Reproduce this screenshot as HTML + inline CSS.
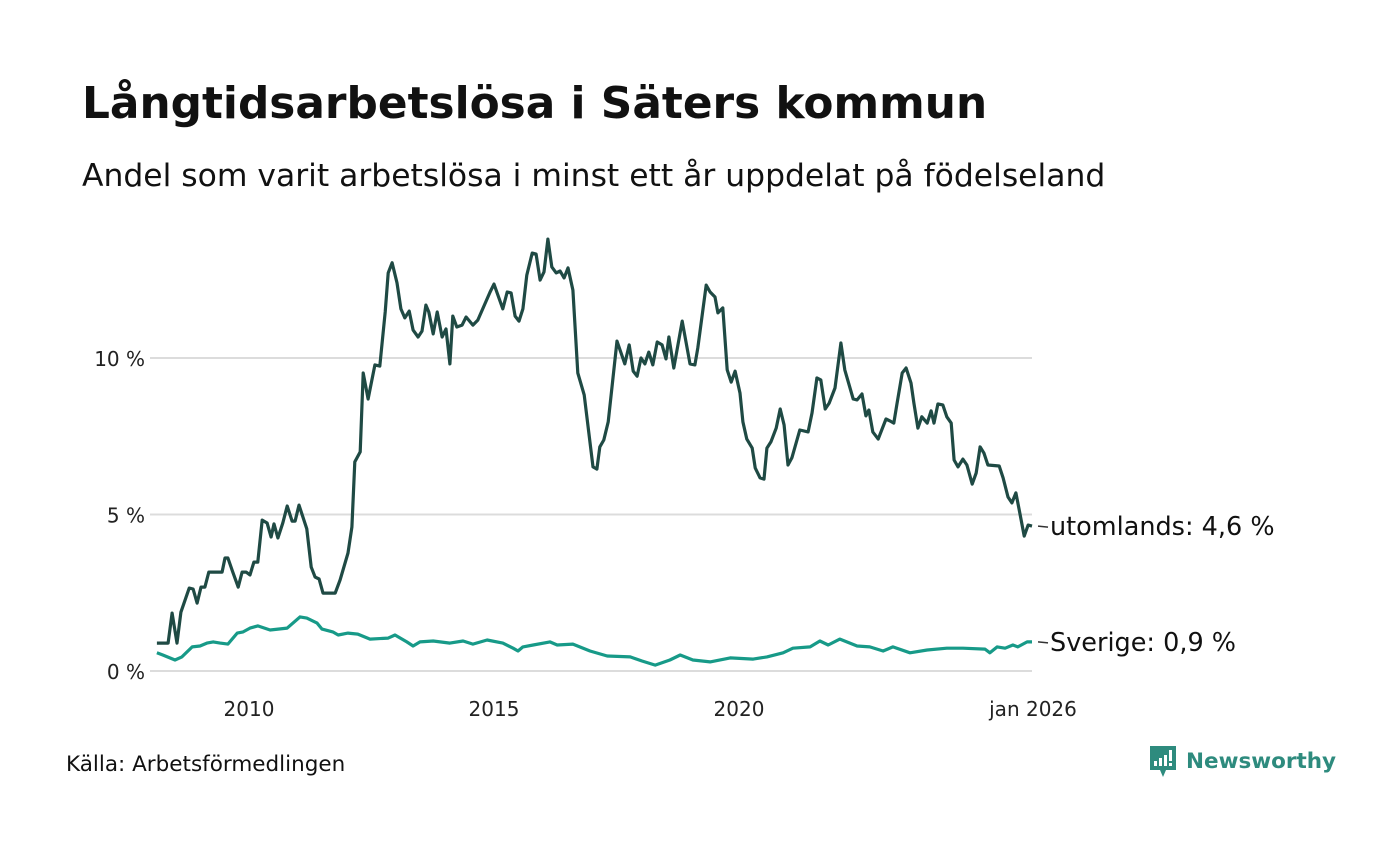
<!DOCTYPE html>
<html><head><meta charset="utf-8">
<style>
body{margin:0;background:#fff;width:1400px;height:840px;overflow:hidden;font-family:"DejaVu Sans","Liberation Sans",sans-serif;}
</style></head>
<body>
<svg width="1400" height="840" xmlns="http://www.w3.org/2000/svg">
<text x="82" y="118" font-size="43.8" font-weight="bold" fill="#111">Långtidsarbetslösa i Säters kommun</text>
<text x="82" y="186" font-size="31.4" fill="#111">Andel som varit arbetslösa i minst ett år uppdelat på födelseland</text>
<g id="grid"></g>
<g id="yticks"></g>
<g id="xticks"></g>
<g id="series"></g>
<text x="66" y="771" font-size="21.5" fill="#111">Källa: Arbetsförmedlingen</text>
<g>
<path d="M1150 746 h26 v24 h-10 l-3 7 l-3 -7 h-10 z" fill="#2e8b7e"/>
<rect x="1154" y="761" width="3" height="5" fill="#fff"/><rect x="1159" y="758" width="3" height="8" fill="#fff"/><rect x="1164" y="755" width="3" height="11" fill="#fff"/><rect x="1169" y="750" width="3" height="11" fill="#fff"/><rect x="1169" y="763" width="3" height="3" fill="#fff"/>
<text x="1186" y="768" font-size="21.5" font-weight="bold" fill="#2e8b7e">Newsworthy</text>
</g>
</svg>
<script>
const yTicks=[0,5,10];
const yTickLabels=["0 %","5 %","10 %"];
const xTicks=[2010,2015,2020,2026];
const xTickLabels=["2010","2015","2020","jan 2026"];
const utomDates=[2008.12,2008.35,2008.43,2008.53,2008.61,2008.78,2008.86,2008.94,2009.02,2009.10,2009.18,2009.45,2009.51,2009.57,2009.67,2009.78,2009.86,2009.94,2010.02,2010.10,2010.18,2010.27,2010.37,2010.45,2010.51,2010.59,2010.69,2010.78,2010.88,2010.94,2011.02,2011.18,2011.27,2011.35,2011.43,2011.51,2011.76,2011.86,2012.02,2012.10,2012.16,2012.27,2012.33,2012.43,2012.57,2012.67,2012.78,2012.84,2012.92,2013.02,2013.10,2013.18,2013.27,2013.35,2013.45,2013.53,2013.61,2013.67,2013.76,2013.84,2013.94,2014.02,2014.10,2014.16,2014.24,2014.35,2014.43,2014.57,2014.67,2014.92,2015.00,2015.18,2015.27,2015.35,2015.43,2015.51,2015.59,2015.67,2015.78,2015.86,2015.94,2016.02,2016.10,2016.18,2016.27,2016.35,2016.43,2016.51,2016.61,2016.71,2016.84,2017.02,2017.10,2017.16,2017.24,2017.33,2017.51,2017.67,2017.76,2017.84,2017.92,2018.00,2018.08,2018.16,2018.24,2018.33,2018.43,2018.51,2018.57,2018.67,2018.84,2019.00,2019.10,2019.16,2019.33,2019.41,2019.51,2019.57,2019.67,2019.76,2019.84,2019.92,2020.02,2020.08,2020.16,2020.27,2020.33,2020.43,2020.51,2020.57,2020.65,2020.76,2020.84,2020.92,2021.00,2021.08,2021.24,2021.41,2021.49,2021.59,2021.67,2021.76,2021.84,2021.96,2022.08,2022.16,2022.33,2022.41,2022.51,2022.59,2022.65,2022.73,2022.84,2023.00,2023.08,2023.16,2023.22,2023.33,2023.41,2023.51,2023.57,2023.65,2023.73,2023.84,2023.92,2023.98,2024.06,2024.16,2024.24,2024.33,2024.39,2024.47,2024.57,2024.65,2024.76,2024.84,2024.92,2025.00,2025.08,2025.31,2025.39,2025.49,2025.57,2025.65,2025.73,2025.82,2025.90,2025.98];
const utomValues=[0.89,0.89,1.85,0.89,1.88,2.65,2.62,2.17,2.68,2.68,3.16,3.16,3.61,3.61,3.16,2.68,3.16,3.16,3.07,3.48,3.48,4.82,4.73,4.28,4.70,4.25,4.73,5.27,4.79,4.79,5.30,4.54,3.32,3.00,2.94,2.49,2.49,2.91,3.77,4.60,6.68,7.00,9.52,8.69,9.78,9.74,11.47,12.72,13.04,12.40,11.57,11.28,11.50,10.89,10.67,10.86,11.69,11.47,10.77,11.47,10.67,10.93,9.81,11.34,10.99,11.05,11.31,11.05,11.21,12.11,12.36,11.57,12.11,12.08,11.34,11.18,11.57,12.65,13.35,13.32,12.49,12.75,13.80,12.91,12.72,12.78,12.56,12.88,12.17,9.52,8.82,6.52,6.45,7.16,7.38,7.96,10.54,9.81,10.42,9.58,9.42,10.00,9.81,10.19,9.78,10.51,10.42,9.97,10.67,9.68,11.18,9.81,9.78,10.32,12.33,12.11,11.95,11.44,11.60,9.62,9.23,9.58,8.88,7.96,7.41,7.12,6.49,6.17,6.13,7.12,7.32,7.76,8.37,7.86,6.58,6.81,7.70,7.64,8.24,9.36,9.30,8.37,8.56,9.04,10.48,9.62,8.69,8.66,8.85,8.15,8.34,7.64,7.41,8.05,7.99,7.92,8.50,9.52,9.68,9.20,8.56,7.76,8.12,7.92,8.31,7.92,8.53,8.50,8.12,7.92,6.74,6.52,6.77,6.58,5.97,6.33,7.16,6.96,6.58,6.55,6.17,5.56,5.37,5.69,5.05,4.31,4.66,4.63];
const sveDates=[2008.12,2008.24,2008.49,2008.63,2008.84,2009.00,2009.14,2009.27,2009.41,2009.57,2009.76,2009.88,2010.02,2010.18,2010.43,2010.78,2011.04,2011.18,2011.39,2011.49,2011.71,2011.82,2012.02,2012.22,2012.47,2012.84,2012.98,2013.22,2013.35,2013.49,2013.76,2014.10,2014.37,2014.57,2014.86,2015.18,2015.39,2015.49,2015.59,2015.80,2016.14,2016.29,2016.61,2016.96,2017.31,2017.78,2018.02,2018.29,2018.59,2018.80,2019.06,2019.41,2019.82,2020.29,2020.57,2020.90,2021.10,2021.45,2021.65,2021.82,2022.06,2022.41,2022.67,2022.94,2023.14,2023.49,2023.84,2024.24,2024.57,2025.02,2025.12,2025.27,2025.43,2025.59,2025.69,2025.88,2025.98];
const sveValues=[0.58,0.51,0.35,0.45,0.77,0.80,0.89,0.93,0.89,0.86,1.21,1.25,1.37,1.44,1.31,1.37,1.73,1.69,1.53,1.34,1.25,1.15,1.21,1.18,1.02,1.05,1.15,0.93,0.80,0.93,0.96,0.89,0.96,0.86,0.99,0.89,0.73,0.64,0.77,0.83,0.93,0.83,0.86,0.64,0.48,0.45,0.32,0.19,0.35,0.51,0.35,0.29,0.42,0.38,0.45,0.58,0.73,0.77,0.96,0.83,1.02,0.80,0.77,0.64,0.77,0.58,0.67,0.73,0.73,0.70,0.58,0.77,0.73,0.83,0.77,0.93,0.93];
const NS="http://www.w3.org/2000/svg";
function xs(t){return 249+(t-2010)*49;}
function ys(v){return 671-v*31.3;}
function mk(tag,attrs,parent){const e=document.createElementNS(NS,tag);for(const k in attrs)e.setAttribute(k,attrs[k]);parent.appendChild(e);return e;}
const grid=document.getElementById('grid'),yt=document.getElementById('yticks'),xt=document.getElementById('xticks'),ser=document.getElementById('series');
yTicks.forEach((v,i)=>{
 const l=mk('line',{x1:150,x2:1032,y1:ys(v),y2:ys(v),stroke:'#dcdcdc','stroke-width':2},grid);
 
 
 const t=mk('text',{x:145,y:ys(v)+8,'text-anchor':'end','font-size':20,fill:'#222'},yt);
 t.textContent=yTickLabels[i];
 
 
});
xTicks.forEach((v,i)=>{
 const t=mk('text',{x:xs(v),y:716,'text-anchor':'middle','font-size':20,fill:'#222'},xt);
 t.textContent=xTickLabels[i];
 
 
});
function line(d,v,color,name){
 const p=d.map((t,i)=>(i?'L':'M')+xs(t).toFixed(1)+' '+ys(v[i]).toFixed(1)).join(' ');
 const e=mk('path',{d:p,fill:'none',stroke:color,'stroke-width':3.2,'stroke-linejoin':'round'},ser);
 
 
}
line(sveDates,sveValues,'#179a88','line-sverige');
line(utomDates,utomValues,'#1f4a44','line-utomlands');
function endLabel(d,v,txt,name){
 const x=xs(d[d.length-1]),y=ys(v[v.length-1]);
 const l=mk('line',{x1:x+6,x2:x+16,y1:y,y2:y+1,stroke:'#333','stroke-width':1.5},ser);
 
 
 const t=mk('text',{x:x+18,y:y+9,'font-size':25.5,fill:'#111'},ser);
 t.textContent=txt;
 
 
}
endLabel(utomDates,utomValues,'utomlands: 4,6 %','label-utomlands');
endLabel(sveDates,sveValues,'Sverige: 0,9 %','label-sverige');
</script>
</body></html>
